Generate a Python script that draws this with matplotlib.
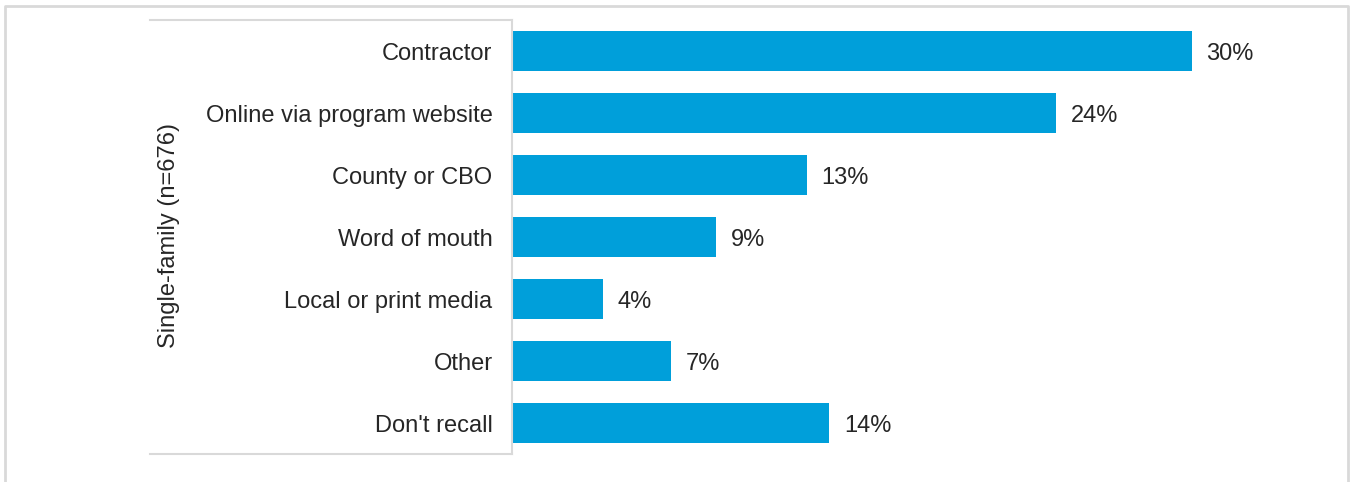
import matplotlib.pyplot as plt
from matplotlib.lines import Line2D

categories = ['Contractor', 'Online via program website', 'County or CBO',
              'Word of mouth', 'Local or print media', 'Other', "Don't recall"]
values = [30, 24, 13, 9, 4, 7, 14]
group_label = 'Single-family (n=676)'

bar_color = '#009FDA'
line_color = '#D9D9D9'
text_color = '#262626'

plt.rcParams['font.family'] = ['Liberation Sans', 'DejaVu Sans']

W, H = 1352, 482
fig = plt.figure(figsize=(W / 100, H / 100), dpi=100)
ax = fig.add_axes([512 / W, 28 / H, (1340 - 512) / W, (454 - 20) / H])

ypos = list(range(len(categories)))
ax.barh(ypos, values, height=0.66, color=bar_color, left=0)
for y, v in zip(ypos, values):
    ax.text(v + 0.65, y + 0.045, f'{v}%', va='center', ha='left', fontsize=17, color=text_color)

ax.set_ylim(len(categories) - 0.5, -0.5)
ax.set_xlim(0, (1340 - 514) / 22.6)
ax.set_yticks(ypos)
ax.set_yticklabels(categories, fontsize=17, color=text_color)
ax.tick_params(axis='y', length=0, pad=14)
ax.set_xticks([])
for side in ['top', 'right', 'bottom']:
    ax.spines[side].set_visible(False)
ax.spines['left'].set_color(line_color)
ax.spines['left'].set_linewidth(1.5)

# bracket lines around the group of category labels
for yy in [20, 454]:
    fig.add_artist(Line2D([150 / W, 512 / W], [1 - yy / H, 1 - yy / H],
                          color=line_color, lw=1.5))

fig.text(169 / W, 1 - 236 / H, group_label, rotation=90, ha='center', va='center',
         fontsize=17, color=text_color)

# outer frame (bottom edge falls outside)
fig.add_artist(Line2D([5 / W, 5 / W, 1348 / W, 1348 / W], [0, 1 - 6 / H, 1 - 6 / H, 0],
                      color=line_color, lw=2))

fig.savefig('out.png', dpi=100)
